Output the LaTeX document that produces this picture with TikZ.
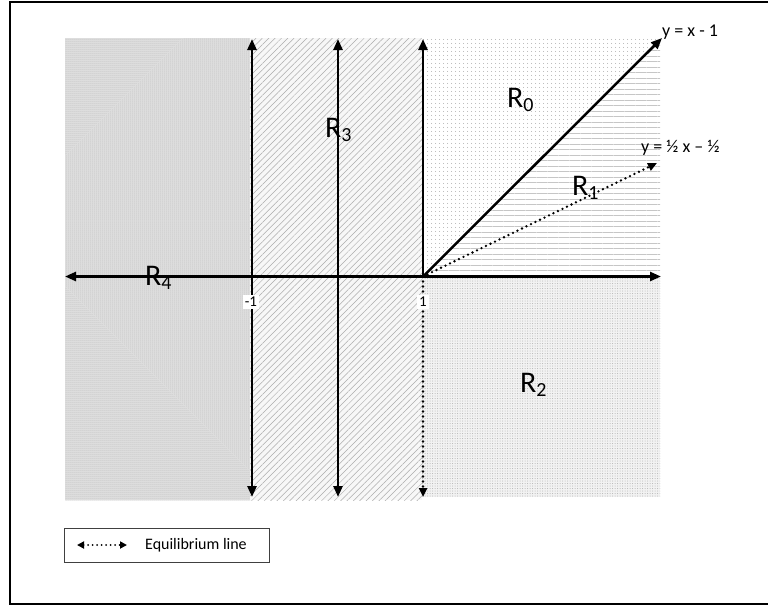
\documentclass[tikz,border=0pt]{standalone}
\usepackage{fontspec}
\setmainfont{Carlito}
\usetikzlibrary{arrows.meta,patterns.meta}
\newcommand{\Rsub}[1]{R\raisebox{-4pt}{\fontsize{20}{22}\selectfont #1}}
\begin{document}
\begin{tikzpicture}[x=1pt,y=-1pt,
  dbl/.style={line width=2.5pt,{Triangle[length=11pt,width=9pt]}-{Triangle[length=11pt,width=9pt]}},
  solidarrow/.style={line width=2.5pt,-{Triangle[length=11pt,width=9pt]}},
  eqline/.style={line width=2.6pt,line cap=round,dash pattern=on 0pt off 5pt,-{Triangle[length=9pt,width=8pt]}},
  reglabel/.style={anchor=base west,inner sep=0pt,font=\fontsize{30}{32}\selectfont},
  eqlabel/.style={anchor=base west,inner sep=0pt,font=\fontsize{18}{20}\selectfont},
  ticklabel/.style={fill=white,inner sep=2pt,font=\fontsize{15}{17}\selectfont}
]
\useasboundingbox (0,0) rectangle (768,606);
% R4 region
\fill[gray!22] (65,38) rectangle (250,500);
\fill[pattern={Dots[distance=2pt,radius=0.5pt]},pattern color=gray!75] (65,38) rectangle (250,500);
% R3 region
\fill[gray!6] (250,38) rectangle (422,500);
\fill[pattern={Lines[angle=45,distance=4.5pt,line width=0.5pt]},pattern color=gray!65] (250,38) rectangle (422,500);
% R0 region
\fill[pattern={Dots[distance=4pt,radius=0.6pt]},pattern color=gray!70] (422,38) -- (660,38) -- (422,276.5) -- cycle;
% R1 region
\fill[pattern={Lines[angle=0,distance=5.5pt,line width=0.6pt]},pattern color=gray!45] (422,276.5) -- (660,38) -- (660,276.5) -- cycle;
% R2 region
\fill[gray!10] (422,276.5) rectangle (660,497);
\fill[pattern={Dots[distance=2.5pt,radius=0.5pt]},pattern color=gray!60] (422,276.5) rectangle (660,497);

% coordinates
\coordinate (hl) at (65,276.5);
\coordinate (hr) at (661,276.5);
\coordinate (aT) at (252,39);
\coordinate (aB) at (252,497);
\coordinate (bT) at (338,39);
\coordinate (bB) at (338,497);
\coordinate (cT) at (423,39);
\coordinate (cO) at (423,276.5);
\coordinate (cB) at (423,497);
\coordinate (dE) at (662,38);
\coordinate (eE) at (657,163);

% lines
\draw[dbl] (hl) -- (hr);
\draw[dbl] (aT) -- (aB);
\draw[dbl] (bT) -- (bB);
\draw[solidarrow] (cO) -- (cT);
\draw[eqline] (cO) -- (cB);
\draw[solidarrow] (cO) -- (dE);
\draw[eqline] (cO) -- (eE);

% tick labels
\node[ticklabel] (tm1) at (251,302) {-1};
\node[ticklabel] (tp1) at (423,302) {1};

% equation labels
\node[eqlabel] (l1) at (662,36) {y = x - 1};
\node[eqlabel] (l2) at (641,152) {y = ½ x – ½};

% region labels
\node[reglabel] (r0) at (507,107) {\Rsub{0}};
\node[reglabel] (r1) at (572,195) {\Rsub{1}};
\node[reglabel] (r2) at (520,392) {\Rsub{2}};
\node[reglabel] (r3) at (325,137) {\Rsub{3}};
\node[reglabel] (r4) at (145,285) {\Rsub{4}};

% legend
\node[draw=black!75,line width=1pt,minimum width=205pt,minimum height=34pt,inner sep=0pt] (leg) at (166.5,545) {};
\coordinate (la) at (77,545);
\coordinate (lb) at (127,545);
\draw[line width=2pt,line cap=round,dash pattern=on 0pt off 4.5pt,{Triangle[length=7pt,width=7pt]}-{Triangle[length=7pt,width=7pt]}] (la) -- (lb);
\node[anchor=west,inner sep=0pt,font=\fontsize{16}{18}\selectfont] (legtext) at (145,545) {Equilibrium line};

% frame
\draw[line width=2.5pt] (772,2) -- (10,2) -- (10,604) -- (772,604);
\end{tikzpicture}
\end{document}
